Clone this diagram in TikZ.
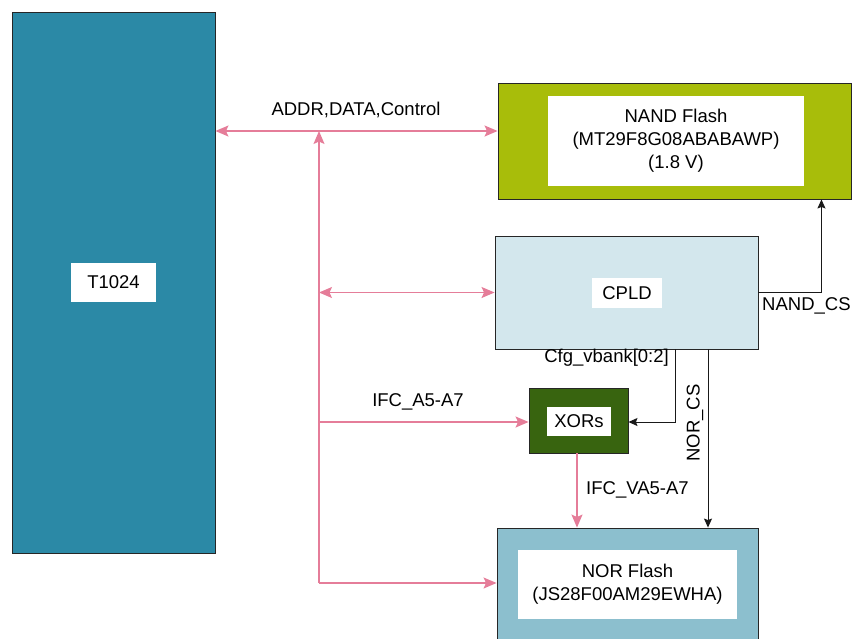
\documentclass[tikz,border=0pt]{standalone}
\usepackage{fontspec}
\setmainfont{Liberation Sans}
\usetikzlibrary{arrows.meta}
\definecolor{socblue}{HTML}{2B89A6}
\definecolor{nandgreen}{HTML}{A8BD0A}
\definecolor{cpldblue}{HTML}{D3E7ED}
\definecolor{xorgreen}{HTML}{38640F}
\definecolor{norblue}{HTML}{8CBFCE}
\definecolor{buspink}{HTML}{E57D99}
\tikzset{
	pinktip/.tip={Stealth[length=13pt, width=11pt, inset=2.5pt]},
	sigtip/.tip={Stealth[length=9pt, width=8pt, inset=1.5pt]}
}
\begin{document}
\begin{tikzpicture}[x=1pt, y=-1pt,
	font=\fontsize{18.5}{23}\selectfont,
	block/.style={shape=rectangle, draw=black!85, line width=0.9pt, inner sep=0pt},
	tag/.style={shape=rectangle, fill=white, inner sep=0pt, align=center},
	bus/.style={draw=buspink, line width=1.2pt, -pinktip},
	twoway/.style={pinktip-pinktip},
	sig/.style={draw=black!90, line width=0.9pt, -sigtip}]
	\useasboundingbox (0,0) rectangle (852,638);
	% Blocks:
	\node[block, fill=socblue, minimum width=203pt, minimum height=541pt] (t1024) at (113.5, 282.5){};
	\node[tag, minimum width=85pt, minimum height=39pt] (t1024tag) at (113.5, 282.5){T1024};
	\node[block, fill=nandgreen, minimum width=353pt, minimum height=116pt] (nand) at (674.5, 141){};
	\node[tag, minimum width=256pt, minimum height=90pt] (nandtag) at (676, 141){NAND Flash\\(MT29F8G08ABABAWP)\\(1.8 V)};
	\node[block, fill=cpldblue, minimum width=263pt, minimum height=113pt] (cpld) at (626.5, 292.5){};
	\node[tag, minimum width=70pt, minimum height=30pt] (cpldtag) at (627, 293){CPLD};
	\node[block, fill=xorgreen, minimum width=99pt, minimum height=65pt] (xors) at (578.5, 420.5){};
	\node[tag, minimum width=64pt, minimum height=29pt] (xorstag) at (579, 421.5){XORs};
	\node[block, fill=norblue, minimum width=261pt, minimum height=122pt] (nor) at (627.5, 589){};
	\node[tag, minimum width=219pt, minimum height=69pt] (nortag) at (627.5, 584.5){NOR Flash\\(JS28F00AM29EWHA)};
	% Bus wires:
	\coordinate (trunk) at (319, 131);
	\coordinate (trunkend) at (319, 583);
	\draw[bus, twoway] (t1024.east |- trunk) -- (nand.west |- trunk);
	\draw[bus] (trunkend) -- (trunk);
	\draw[bus, twoway] (trunk |- cpld) -- (cpld.west);
	\draw[bus] (trunk |- 0,422) -- (xors.west |- 0,422);
	\draw[bus] (trunkend) -- (nor.west |- trunkend);
	\draw[bus] ([xshift=-1.5pt]xors.south) -- ([xshift=-1.5pt]xors.south |- nor.north);
	% Control wires:
	\draw[sig] (cpld.east) -| ([xshift=-30pt]nand.south east);
	\draw[sig] ([xshift=48.5pt]cpld.south) |- (xors.east |- 0,422);
	\draw[sig] ([xshift=81.5pt]cpld.south) -- ([xshift=81.5pt]cpld.south |- nor.north);
	% Labels:
	\node (buslabel) at (356, 110){ADDR,DATA,Control};
	\node (alabel) at (418, 402){IFC\_A5-A7};
	\node[anchor=west, inner sep=0pt] (valabel) at (586, 490){IFC\_VA5-A7};
	\node[anchor=west, inner sep=0pt] (nandcslabel) at (762, 306){NAND\_CS};
	\node[anchor=east, inner sep=0pt] (cfglabel) at (669, 358){Cfg\_vbank[0:2]};
	\node[rotate=90, inner sep=0pt] (norcslabel) at (695, 423){NOR\_CS};
\end{tikzpicture}
\end{document}
